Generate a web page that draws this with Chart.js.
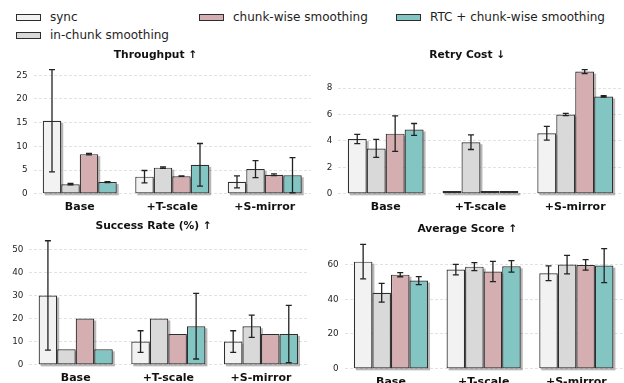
<!DOCTYPE html>
<html>
<head>
<meta charset="utf-8">
<script src="https://cdn.jsdelivr.net/npm/chart.js@4"></script>
<style>
  html, body { margin: 0; padding: 0; background: #fff; }
  body { width: 624px; height: 383px; position: relative; overflow: hidden; font-family: "DejaVu Sans", sans-serif; }
  canvas { position: absolute; }
  .sw { position: absolute; box-sizing: border-box; width: 25px; height: 7px; border: 1.2px solid #2e2e2e; }
  .lt { position: absolute; font-size: 12px; line-height: 14px; color: #1e1e1e; white-space: nowrap; }
</style>
</head>
<body>
<div id="legend"></div>
<canvas id="c0" width="312" height="170" style="left:0;top:45px"></canvas>
<canvas id="c1" width="312" height="170" style="left:312px;top:45px"></canvas>
<canvas id="c2" width="312" height="168" style="left:0;top:215px"></canvas>
<canvas id="c3" width="312" height="168" style="left:312px;top:215px"></canvas>
<script>
// Groups and series
const groups = ['Base', '+T-scale', '+S-mirror'];
const seriesNames = ['sync', 'in-chunk smoothing', 'chunk-wise smoothing', 'RTC + chunk-wise smoothing'];
const seriesColors = ['#f2f2f2', '#d9d9d9', '#d4aeb1', '#83c5c3'];

// Throughput ↑ : one array per series, values per group
const throughputSync = [15.4, 3.6, 2.5];
const throughputInChunk = [2.0, 5.5, 5.2];
const throughputChunkWise = [8.35, 3.7, 4.0];
const throughputRTC = [2.45, 6.1, 3.9];
const throughputSyncErr = [10.8, 1.3, 1.25];
const throughputInChunkErr = [0.15, 0.15, 1.8];
const throughputChunkWiseErr = [0.15, 0.05, 0.2];
const throughputRTCErr = [0.1, 4.5, 3.7];
const throughputTicks = [0, 5, 10, 15, 20, 25];

// Retry Cost ↓
const retrySync = [4.14, 0.2, 4.58];
const retryInChunk = [3.43, 3.9, 6.0];
const retryChunkWise = [4.55, 0.2, 9.25];
const retryRTC = [4.87, 0.2, 7.37];
const retrySyncErr = [0.35, 0, 0.52];
const retryInChunkErr = [0.68, 0.55, 0.08];
const retryChunkWiseErr = [1.35, 0, 0.15];
const retryRTCErr = [0.45, 0, 0.05];
const retryTicks = [0, 2, 4, 6, 8];

// Success Rate (%) ↑
const successSync = [30.0, 10.0, 10.0];
const successInChunk = [6.67, 20.0, 16.67];
const successChunkWise = [20.0, 13.33, 13.33];
const successRTC = [6.67, 16.67, 13.33];
const successSyncErr = [23.7, 4.7, 4.7];
const successInChunkErr = [0, 0, 4.8];
const successChunkWiseErr = [0, 0, 0];
const successRTCErr = [0, 14.2, 12.4];
const successTicks = [0, 10, 20, 30, 40, 50];

// Average Score ↑
const scoreSync = [61.7, 57.1, 55.0];
const scoreInChunk = [43.8, 58.8, 60.0];
const scoreChunkWise = [54.2, 56.0, 59.8];
const scoreRTC = [50.8, 59.0, 59.4];
const scoreSyncErr = [9.9, 3.0, 4.2];
const scoreInChunkErr = [5.4, 2.3, 5.3];
const scoreChunkWiseErr = [1.2, 5.8, 3.0];
const scoreRTCErr = [2.3, 3.3, 9.8];
const scoreTicks = [0, 20, 40, 60];

const FONT = '"DejaVu Sans", sans-serif';

// Legend (HTML, laid out as a three-column grid)
const legendSlots = [
  { box: [16, 14], text: [50, 10] },
  { box: [16, 32], text: [50, 28] },
  { box: [199, 14], text: [233, 10] },
  { box: [396, 14], text: [430, 10] }
];
const legendEl = document.getElementById('legend');
seriesNames.forEach((name, i) => {
  const s = legendSlots[i];
  const sw = document.createElement('div');
  sw.className = 'sw';
  sw.style.left = s.box[0] + 'px';
  sw.style.top = s.box[1] + 'px';
  sw.style.background = seriesColors[i];
  legendEl.appendChild(sw);
  const t = document.createElement('div');
  t.className = 'lt';
  t.style.left = s.text[0] + 'px';
  t.style.top = s.text[1] + 'px';
  t.textContent = name;
  legendEl.appendChild(t);
});

// Soft drop shadow under each bar
const barShadow = {
  id: 'barShadow',
  beforeDatasetsDraw(chart) {
    const ctx = chart.ctx;
    ctx.save();
    ctx.fillStyle = 'rgba(0,0,0,0.28)';
    chart.data.datasets.forEach((ds, i) => {
      chart.getDatasetMeta(i).data.forEach(bar => {
        const { x, y, base, width } = bar.getProps(['x', 'y', 'base', 'width'], true);
        ctx.fillRect(x - width / 2 + 2, Math.min(y, base) + 2, width, Math.abs(base - y));
      });
    });
    ctx.restore();
  }
};

// Symmetric error bars with caps
const errorBars = {
  id: 'errorBars',
  afterDatasetsDraw(chart) {
    const ctx = chart.ctx;
    const yScale = chart.scales.y;
    ctx.save();
    ctx.strokeStyle = '#222';
    ctx.lineWidth = 1.3;
    chart.data.datasets.forEach((ds, i) => {
      chart.getDatasetMeta(i).data.forEach((bar, j) => {
        const e = ds.errors[j];
        if (!e) return;
        const v = ds.data[j];
        const x = bar.x;
        const yt = yScale.getPixelForValue(v + e);
        const yb = yScale.getPixelForValue(v - e);
        ctx.beginPath();
        ctx.moveTo(x, yt); ctx.lineTo(x, yb);
        ctx.moveTo(x - 3, yt); ctx.lineTo(x + 3, yt);
        ctx.moveTo(x - 3, yb); ctx.lineTo(x + 3, yb);
        ctx.stroke();
      });
    });
    ctx.restore();
  }
};

function makeChart(id, title, means, errs, ticks, p) {
  const yMax = Math.max(...means.flatMap((s, i) => s.map((v, j) => v + errs[i][j]))) * 1.05;
  return new Chart(document.getElementById(id), {
    type: 'bar',
    data: {
      labels: groups,
      datasets: seriesNames.map((n, i) => ({
        label: n,
        data: means[i],
        errors: errs[i],
        backgroundColor: seriesColors[i],
        borderColor: '#2e2e2e',
        borderWidth: 1.2,
        borderSkipped: false,
        categoryPercentage: 0.8,
        barPercentage: 1.0
      }))
    },
    options: {
      responsive: false,
      animation: false,
      devicePixelRatio: 1,
      layout: { padding: { left: 0, right: p.padRight, top: 0, bottom: 0 } },
      plugins: {
        legend: { display: false },
        tooltip: { enabled: false },
        title: {
          display: true,
          text: title,
          color: '#111',
          font: { family: FONT, size: 10.7, weight: 'bold' },
          padding: { top: p.titleTop, bottom: p.titleBottom }
        }
      },
      scales: {
        x: {
          grid: { display: false, drawTicks: false },
          border: { display: false },
          ticks: { color: '#111', font: { family: FONT, size: 11, weight: 'bold' }, padding: 7 },
          afterFit(s) { s.height = p.xh; }
        },
        y: {
          min: 0,
          max: yMax,
          grid: { color: '#d6d6d6', lineWidth: 0.7, drawTicks: false },
          border: { display: false, dash: [3, 2] },
          ticks: { color: '#262626', font: { family: FONT, size: 8.8 }, padding: 6 },
          afterBuildTicks(s) { s.ticks = ticks.map(v => ({ value: v })); },
          afterFit(s) { s.width = p.yw; }
        }
      }
    },
    plugins: [barShadow, errorBars]
  });
}

makeChart('c0', 'Throughput ↑',
  [throughputSync, throughputInChunk, throughputChunkWise, throughputRTC],
  [throughputSyncErr, throughputInChunkErr, throughputChunkWiseErr, throughputRTCErr],
  throughputTicks, { yw: 33.5, padRight: 1, titleTop: 3.6, titleBottom: 2, xh: 21.3 });

makeChart('c1', 'Retry Cost ↓',
  [retrySync, retryInChunk, retryChunkWise, retryRTC],
  [retrySyncErr, retryInChunkErr, retryChunkWiseErr, retryRTCErr],
  retryTicks, { yw: 26.3, padRight: 1.4, titleTop: 3.6, titleBottom: 2, xh: 21.3 });

makeChart('c2', 'Success Rate (%) ↑',
  [successSync, successInChunk, successChunkWise, successRTC],
  [successSyncErr, successInChunkErr, successChunkWiseErr, successRTCErr],
  successTicks, { yw: 29.4, padRight: 4.7, titleTop: 4.6, titleBottom: 2.1, xh: 18.3 });

makeChart('c3', 'Average Score ↑',
  [scoreSync, scoreInChunk, scoreChunkWise, scoreRTC],
  [scoreSyncErr, scoreInChunkErr, scoreChunkWiseErr, scoreRTCErr],
  scoreTicks, { yw: 32.6, padRight: 1.3, titleTop: 8.1, titleBottom: 2.3, xh: 14.3 });
</script>
</body>
</html>
